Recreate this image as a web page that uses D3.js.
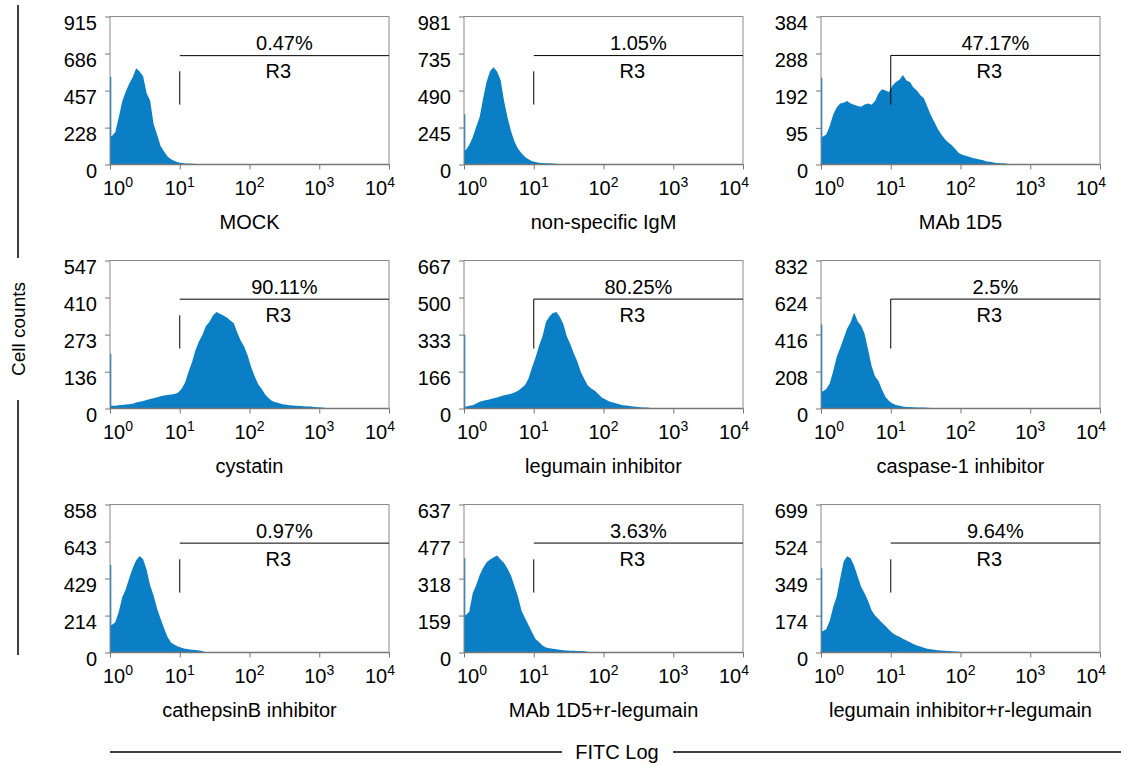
<!DOCTYPE html>
<html>
<head>
<meta charset="utf-8">
<script src="https://cdn.jsdelivr.net/npm/d3@7"></script>
<style>
  body { margin: 0; background: #fff; }
  text { font-family: Arial, "Liberation Sans", sans-serif; fill: #000; }
</style>
</head>
<body>
<script>
// panel titles, left to right, top to bottom
const titles = ["MOCK", "non-specific IgM", "MAb 1D5",
  "cystatin", "legumain inhibitor", "caspase-1 inhibitor",
  "cathepsinB inhibitor", "MAb 1D5+r-legumain", "legumain inhibitor+r-legumain"];

const yTicks = [
  [0, 228, 457, 686, 915], [0, 245, 490, 735, 981], [0, 95, 192, 288, 384],
  [0, 136, 273, 410, 547], [0, 166, 333, 500, 667], [0, 208, 416, 624, 832],
  [0, 214, 429, 643, 858], [0, 159, 318, 477, 637], [0, 174, 349, 524, 699]
];
const xTicks = [1, 10, 100, 1000, 10000];

const gatePercent = ["0.47%", "1.05%", "47.17%", "90.11%", "80.25%", "2.5%", "0.97%", "3.63%", "9.64%"];
const gateLevel = [673, 722, 283, 404, 493, 615, 634, 471, 517];
// gates whose marker line leaves a gap under the horizontal bar
const gateGap = [true, true, false, true, false, false, true, true, true];

// counts in the very first channel (the thin spike at 10^0)
const edgeSpike = [543, 333, 225, 202, 333, 473, 508, 406, 398];

// histogram counts, bins of 1/20 decade starting at 10^0
const mock = [175, 200, 290, 390, 450, 500, 540, 595, 575, 545, 440, 395, 250, 185, 115, 80, 50, 32, 22, 14, 9, 6, 6, 5, 4];
const igm = [95, 130, 180, 250, 315, 440, 550, 620, 645, 615, 560, 420, 310, 220, 150, 105, 75, 50, 35, 22, 16, 12, 10, 9, 8, 7, 5];
const mab1d5 = [72, 78, 100, 130, 148, 158, 160, 165, 158, 155, 152, 150, 156, 158, 155, 165, 185, 195, 192, 188,
  205, 214, 220, 232, 218, 214, 200, 192, 180, 172, 150, 128, 110, 92, 78, 66, 57, 50, 40, 30,
  25, 23, 20, 17, 15, 13, 11, 8, 7, 5, 4, 3, 3, 2];
const cystatin = [10, 10, 12, 13, 15, 16, 18, 22, 25, 28, 31, 35, 38, 42, 45, 48, 50, 52, 54, 58,
  72, 95, 135, 170, 215, 248, 272, 305, 320, 344, 357, 350, 344, 336, 325, 315, 280, 250, 228, 195,
  152, 118, 90, 72, 52, 38, 28, 23, 19, 16, 14, 12, 11, 10, 9, 8, 7, 7, 6, 5, 4, 3];
const legumainInh = [8, 12, 15, 22, 30, 35, 38, 42, 46, 50, 55, 60, 63, 67, 72, 80, 92, 106, 135, 185,
  230, 282, 325, 390, 415, 430, 435, 412, 380, 325, 290, 248, 212, 165, 133, 104, 90, 80, 65, 50,
  42, 33, 28, 24, 19, 15, 13, 11, 9, 8, 6, 5, 4, 2];
const caspase = [95, 110, 140, 210, 290, 340, 395, 450, 485, 540, 490, 465, 420, 330, 240, 180, 155, 105, 65, 42,
  28, 19, 15, 11, 9, 8, 7, 6, 6, 5, 4, 3];
const cathepsin = [160, 175, 235, 320, 365, 430, 489, 535, 560, 540, 480, 390, 330, 255, 195, 140, 90, 58, 45, 35,
  27, 22, 19, 16, 14, 12, 8];
const mabLegumain = [160, 175, 255, 290, 334, 365, 388, 400, 410, 418, 400, 385, 360, 330, 285, 240, 180, 148, 118, 87,
  58, 45, 30, 22, 18, 16, 14, 12, 10, 9, 8, 7, 6, 6, 5, 3];
const inhLegumain = [100, 110, 150, 215, 265, 350, 430, 455, 445, 410, 360, 310, 280, 245, 200, 175, 158, 140, 125, 108,
  92, 82, 74, 65, 57, 49, 40, 33, 28, 22, 18, 15, 13, 11, 10, 8, 7, 6, 5, 3];

const histograms = [mock, igm, mab1d5, cystatin, legumainInh, caspase, cathepsin, mabLegumain, inhLegumain];
const binDecades = 0.05;

const colLeft = [110, 464, 821];
const rowTop = [16.5, 260.5, 504.5];
const W = 279, H = 148;
const histColor = "#0b7fc6";
const boxColor = "#8a8a8a";

const svg = d3.select("body").append("svg")
  .attr("width", 1121)
  .attr("height", 767);

titles.forEach((title, i) => {
  const c = i % 3, r = Math.floor(i / 3);
  const g = svg.append("g")
    .attr("transform", `translate(${colLeft[c]},${rowTop[r]})`);

  const ymax = yTicks[i][yTicks[i].length - 1];
  const x = d3.scaleLog().domain([1, 1e4]).range([0, W]);
  const y = d3.scaleLinear().domain([0, ymax]).range([H, 0]);

  const clipId = `clip-${i}`;
  g.append("clipPath").attr("id", clipId)
    .append("rect").attr("width", W).attr("height", H);

  // histogram outline through the bin centres
  const vals = histograms[i];
  const pts = vals.map((v, k) => ({ xv: Math.pow(10, (k + 0.5) * binDecades), v: v }));
  pts.unshift({ xv: 1, v: vals[0] });
  pts.push({ xv: Math.pow(10, (vals.length + 0.5) * binDecades), v: 0 });
  const area = d3.area()
    .x(d => x(d.xv))
    .y0(H)
    .y1(d => y(d.v));
  g.append("path")
    .datum(pts)
    .attr("clip-path", `url(#${clipId})`)
    .attr("fill", histColor)
    .attr("d", area);

  // first channel spike
  g.append("rect")
    .attr("x", x(1))
    .attr("y", y(edgeSpike[i]))
    .attr("width", 1.3)
    .attr("height", H - y(edgeSpike[i]))
    .attr("fill", histColor);

  // frame
  g.append("rect")
    .attr("width", W).attr("height", H)
    .attr("fill", "none")
    .attr("stroke", boxColor)
    .attr("stroke-width", 1);
  g.append("line")
    .attr("x1", 0).attr("x2", W).attr("y1", H).attr("y2", H)
    .attr("stroke", "#777").attr("stroke-width", 1.6);

  // y axis
  const yAxis = d3.axisLeft(y).tickValues(yTicks[i]).tickSize(5).tickPadding(8);
  const yG = g.append("g").call(yAxis);
  yG.select(".domain").remove();
  yG.selectAll("line").attr("stroke", "#777");
  yG.selectAll("text")
    .attr("font-size", 20)
    .attr("font-family", "Arial, 'Liberation Sans', sans-serif")
    .attr("y", 5.5)
    .attr("dy", "0.35em");

  // x axis ticks
  const xAxis = d3.axisBottom(x).tickValues(xTicks).tickSize(5).tickFormat("");
  const xG = g.append("g").attr("transform", `translate(0,${H})`).call(xAxis);
  xG.select(".domain").remove();
  xG.selectAll("line").attr("stroke", "#777");

  const labelShift = [8, 0, 0, 0, -9];
  xTicks.forEach((t, j) => {
    const txt = g.append("text")
      .attr("x", x(t) + labelShift[j])
      .attr("y", H + 30.5)
      .attr("text-anchor", "middle")
      .attr("font-size", 20);
    txt.append("tspan").text("10");
    txt.append("tspan")
      .attr("font-size", 14)
      .attr("dy", -8)
      .text(Math.round(Math.log10(t)));
  });

  // title
  g.append("text")
    .attr("x", W / 2)
    .attr("y", 212.5)
    .attr("text-anchor", "middle")
    .attr("font-size", 20)
    .text(title);

  // gate R3
  const gx = x(10), gy = y(gateLevel[i]);
  g.append("line")
    .attr("x1", gx).attr("x2", W)
    .attr("y1", gy).attr("y2", gy)
    .attr("stroke", "#000").attr("stroke-width", 1);
  const vTop = gateGap[i] ? y(ymax * 0.63) : gy;
  g.append("line")
    .attr("x1", gx).attr("x2", gx)
    .attr("y1", vTop).attr("y2", y(ymax * 0.405))
    .attr("stroke", "#000").attr("stroke-width", 1);
  const mid = (gx + W) / 2;
  g.append("text")
    .attr("x", mid)
    .attr("y", 33.5)
    .attr("text-anchor", "middle")
    .attr("font-size", 20)
    .text(gatePercent[i]);
  g.append("text")
    .attr("x", mid - 6)
    .attr("y", 61.5)
    .attr("text-anchor", "middle")
    .attr("font-size", 20)
    .text("R3");
});

// shared axis titles
svg.append("line").attr("x1", 18).attr("x2", 18).attr("y1", 5).attr("y2", 258)
  .attr("stroke", "#000").attr("stroke-width", 1.5);
svg.append("line").attr("x1", 18).attr("x2", 18).attr("y1", 400).attr("y2", 655)
  .attr("stroke", "#000").attr("stroke-width", 1.5);
svg.append("text")
  .attr("transform", "translate(25,329) rotate(-90)")
  .attr("text-anchor", "middle")
  .attr("font-size", 19)
  .text("Cell counts");

svg.append("line").attr("x1", 110).attr("x2", 562).attr("y1", 752).attr("y2", 752)
  .attr("stroke", "#000").attr("stroke-width", 1.5);
svg.append("line").attr("x1", 673).attr("x2", 1121).attr("y1", 752).attr("y2", 752)
  .attr("stroke", "#000").attr("stroke-width", 1.5);
svg.append("text")
  .attr("x", 617)
  .attr("y", 759)
  .attr("text-anchor", "middle")
  .attr("font-size", 20)
  .text("FITC Log");
</script>
</body>
</html>
